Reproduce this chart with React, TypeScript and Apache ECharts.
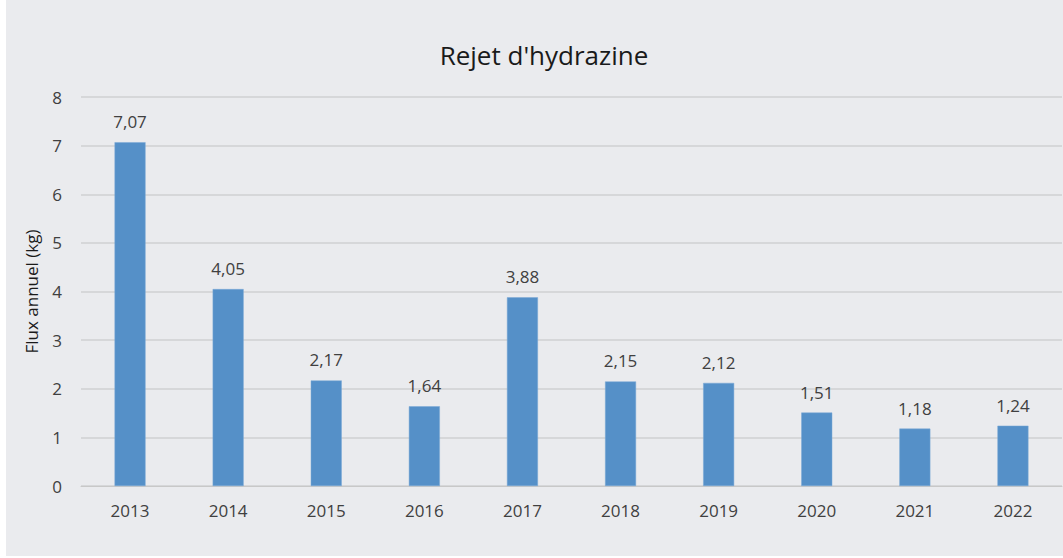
import React, { useEffect, useRef } from "react";
import * as echarts from "echarts";

const years = ["2013", "2014", "2015", "2016", "2017", "2018", "2019", "2020", "2021", "2022"];
const flux = [7.07, 4.05, 2.17, 1.64, 3.88, 2.15, 2.12, 1.51, 1.18, 1.24];
const titleText = "Rejet d'hydrazine";
const yAxisName = "Flux annuel (kg)";

export default function App() {
  const ref = useRef<HTMLDivElement>(null);
  useEffect(() => {
    if (!ref.current) return;
    const chart = echarts.init(ref.current, undefined, { renderer: "svg" });
    const font = "'Open Sans', 'Noto Sans', sans-serif";
    chart.setOption({
      animation: false,
      backgroundColor: "#ffffff",
      textStyle: { fontFamily: font },
      graphic: [
        { type: "rect", z: -10, silent: true, shape: { x: 6, y: 0, width: 1057, height: 556 }, style: { fill: "#eaebee" } },
      ],
      title: {
        text: titleText,
        left: 539,
        top: 37,
        textAlign: "center",
        textStyle: { fontFamily: font, fontSize: 26, fontWeight: "normal", color: "#1a1a1a" },
      },
      grid: { left: 81, right: 1, top: 97, bottom: 72, containLabel: false },
      xAxis: {
        type: "category",
        data: years,
        axisLine: { show: true, lineStyle: { color: "#c8c8c8", width: 1 } },
        axisTick: { show: false },
        axisLabel: { color: "#404040", fontSize: 17, margin: 16, fontFamily: font },
      },
      yAxis: {
        type: "value",
        min: 0,
        max: 8,
        interval: 1,
        name: yAxisName,
        nameLocation: "middle",
        nameGap: 41,
        nameTextStyle: { color: "#1a1a1a", fontSize: 17, fontFamily: font },
        axisLine: { show: false },
        axisTick: { show: false },
        axisLabel: { color: "#404040", fontSize: 17, margin: 19, fontFamily: font },
        splitLine: { lineStyle: { color: "#cfd0d2", width: 1.5 } },
      },
      series: [
        {
          type: "bar",
          data: flux,
          barWidth: 31,
          itemStyle: { color: "#5590c8", borderColor: "#7aa9d6", borderWidth: 0.5 },
          label: {
            show: true,
            position: "top",
            distance: 12,
            color: "#404040",
            fontSize: 17,
            fontFamily: font,
            formatter: (p: any) => p.value.toFixed(2).replace(".", ","),
          },
        },
      ],
    });
    return () => chart.dispose();
  }, []);
  return (
    <div
      ref={ref}
      style={{ position: "fixed", left: 0, top: 0, width: 1063, height: 558 }}
    />
  );
}
